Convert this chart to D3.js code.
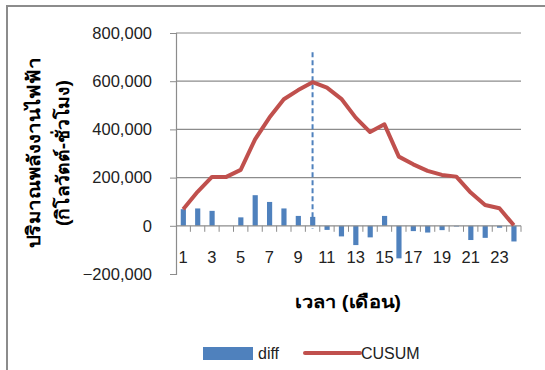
<!DOCTYPE html>
<html>
<head>
<meta charset="utf-8">
<script src="https://cdn.jsdelivr.net/npm/d3@7"></script>
<style>
  body { margin: 0; background: #fff; }
  text { font-family: "Liberation Sans", Arial, sans-serif; fill: #222; }
  .title { font-weight: bold; font-size: 18px; fill: #000; }
</style>
</head>
<body>
<div id="chart"></div>
<script>
// months 1..24
var months = d3.range(1, 25);
var diff = [69000, 72000, 62000, 0, 35000, 127000, 99000, 72000, 41000, 37000,
            -17000, -44000, -80000, -48000, 41000, -135000, -22000, -28000, -18000, -3000,
            -59000, -50000, -8000, -65000];
var cusum = [69000, 141000, 203000, 203000, 232000, 359000, 449000, 525000, 563000, 596000,
             573000, 527000, 449000, 389000, 421000, 287000, 255000, 228000, 211000, 204000,
             138000, 86000, 73000, 2000];
var yTicks = [-200000, 0, 200000, 400000, 600000, 800000];
var xLabels = [1, 3, 5, 7, 9, 11, 13, 15, 17, 19, 21, 23];
var changeMonth = 10;

var W = 545, H = 370;
var plot = {left: 176, right: 521, top: 33, bottom: 274};

var svg = d3.select("#chart").append("svg")
    .attr("width", W)
    .attr("height", H);

// outer frame (left + top only, image is cropped)
svg.append("path")
    .attr("d", "M7,370 V6 H545")
    .attr("fill", "none")
    .attr("stroke", "#8c8c8c")
    .attr("stroke-width", 2);

var x = d3.scaleBand()
    .domain(months)
    .range([plot.left, plot.right])
    .padding(0);

var y = d3.scaleLinear()
    .domain([-200000, 800000])
    .range([plot.bottom, plot.top]);

// gridlines
svg.append("g")
  .selectAll("line")
  .data(yTicks.filter(function(d) { return d > 0; }))
  .enter().append("line")
    .attr("x1", plot.left)
    .attr("x2", plot.right)
    .attr("y1", function(d) { return y(d); })
    .attr("y2", function(d) { return y(d); })
    .attr("stroke", "#8c8c8c")
    .attr("stroke-width", 1.2);

// y axis
var yAxis = svg.append("g")
    .attr("transform", "translate(" + plot.left + ",0)")
    .call(d3.axisLeft(y).tickValues(yTicks).tickSize(6).tickPadding(18)
      .tickFormat(d3.format(",")));
yAxis.select(".domain").attr("stroke", "#8c8c8c").attr("stroke-width", 1.2);
yAxis.selectAll(".tick line").attr("stroke", "#8c8c8c");
yAxis.selectAll(".tick text").style("font-size", "16.5px").attr("fill", "#222");

// bars
svg.append("g")
  .selectAll("rect")
  .data(months)
  .enter().append("rect")
    .attr("x", function(d) { return x(d) + x.bandwidth() * 0.33; })
    .attr("width", x.bandwidth() * 0.36)
    .attr("y", function(d, i) { return y(Math.max(0, diff[i])); })
    .attr("height", function(d, i) { return Math.abs(y(diff[i]) - y(0)); })
    .attr("fill", "#4f81bd");

// x axis at zero
svg.append("line")
    .attr("x1", plot.left).attr("x2", plot.right)
    .attr("y1", y(0)).attr("y2", y(0))
    .attr("stroke", "#8c8c8c").attr("stroke-width", 1.2);
svg.append("g")
  .selectAll("line")
  .data(d3.range(1, 25))
  .enter().append("line")
    .attr("x1", function(d) { return plot.left + d * x.step(); })
    .attr("x2", function(d) { return plot.left + d * x.step(); })
    .attr("y1", y(0))
    .attr("y2", y(0) + 6)
    .attr("stroke", "#8c8c8c");

svg.append("g")
  .selectAll("text")
  .data(xLabels)
  .enter().append("text")
    .attr("x", function(d) { return x(d) + x.bandwidth() / 2; })
    .attr("y", 263)
    .attr("text-anchor", "middle")
    .style("font-size", "16.5px")
    .text(function(d) { return d; });

// change point marker
svg.append("line")
    .attr("x1", x(changeMonth) + x.bandwidth() / 2)
    .attr("x2", x(changeMonth) + x.bandwidth() / 2)
    .attr("y1", y(720000))
    .attr("y2", y(-12000))
    .attr("stroke", "#4f81bd")
    .attr("stroke-width", 2)
    .attr("stroke-dasharray", "5,3");

// cusum line
var line = d3.line()
    .x(function(d, i) { return x(months[i]) + x.bandwidth() / 2; })
    .y(function(d) { return y(d); });

svg.append("path")
    .datum(cusum)
    .attr("d", line)
    .attr("fill", "none")
    .attr("stroke", "#c0504d")
    .attr("stroke-width", 4)
    .attr("stroke-linejoin", "round");

// axis titles
svg.append("text")
    .attr("class", "title")
    .attr("transform", "translate(40,153) rotate(-90)")
    .attr("text-anchor", "middle")
    .attr("textLength", 190)
    .attr("lengthAdjust", "spacingAndGlyphs")
    .text("ปริมาณพลังงานไฟฟ้า");
svg.append("text")
    .attr("class", "title")
    .attr("transform", "translate(69,153) rotate(-90)")
    .attr("text-anchor", "middle")
    .attr("textLength", 146)
    .attr("lengthAdjust", "spacingAndGlyphs")
    .text("(กิโลวัตต์-ชั่วโมง)");

svg.append("text")
    .attr("class", "title")
    .attr("x", 348)
    .attr("y", 308)
    .attr("text-anchor", "middle")
    .attr("textLength", 106)
    .attr("lengthAdjust", "spacingAndGlyphs")
    .text("เวลา (เดือน)");

// legend
var legend = svg.append("g");
legend.append("rect")
    .attr("x", 203).attr("y", 347)
    .attr("width", 50).attr("height", 13)
    .attr("fill", "#4f81bd");
legend.append("text")
    .attr("x", 258).attr("y", 359)
    .style("font-size", "16px")
    .text("diff");
legend.append("line")
    .attr("x1", 305).attr("x2", 360)
    .attr("y1", 353).attr("y2", 353)
    .attr("stroke", "#c0504d")
    .attr("stroke-width", 4)
    .attr("stroke-linecap", "round");
legend.append("text")
    .attr("x", 361).attr("y", 359)
    .style("font-size", "16px")
    .text("CUSUM");
</script>
</body>
</html>
